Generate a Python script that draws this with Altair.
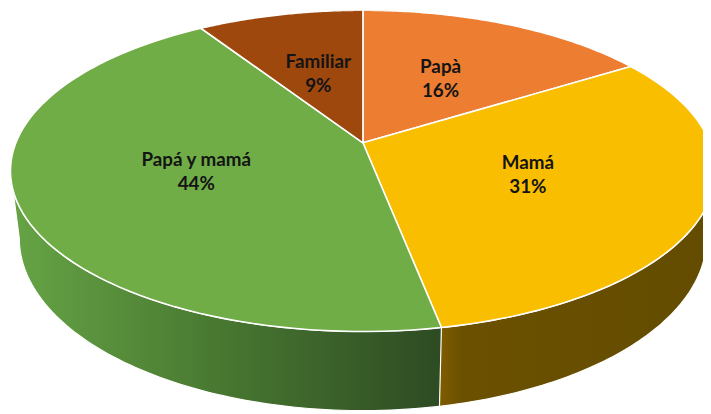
import altair as alt
import pandas as pd

# ---- data ----
categories = ["Papà", "Mamá", "Papá y mamá", "Familiar"]
values = [16, 31, 44, 9]
top_colors = ["#ED7D31", "#F9BE00", "#70AD47", "#9E480E"]

df = pd.DataFrame({"cat": categories, "value": values, "idx": list(range(len(categories)))})

# ---- layout constants (pixel space of the picture) ----
N = 80
PCX, PCY = 367, 142      # pie centre as seen in perspective
S, S2 = 351, 157.5       # horizontal / vertical radius scale
K = 0.175                # perspective strength
DEPTH = 66               # pie thickness
BX = 0.975               # horizontal shrink of the bottom face
LR = 0.5                 # label radius fraction
H = 406

xs = alt.Scale(domain=[8, 711], nice=False, zero=False)
ys = alt.Scale(domain=[8, 8 + H], nice=False, zero=False, reverse=True)

base = alt.Chart(df).transform_window(
    cum="sum(value)", sort=[alt.SortField("idx")], frame=[None, 0]
).transform_joinaggregate(
    total="sum(value)"
).transform_calculate(
    start="(datum.cum - datum.value) / datum.total * 2 * PI",
    end="datum.cum / datum.total * 2 * PI",
)

# top face
top = base.transform_calculate(
    k=f"sequence(0, {N + 2})"
).transform_flatten(["k"]).transform_calculate(
    t=f"datum.start + (datum.end - datum.start) * (datum.k - 1) / {N - 1}",
    c=f"(datum.k == 0 || datum.k == {N + 1}) ? 0 : 1",
).transform_calculate(
    px=f"{PCX} + datum.c * {S} * sin(datum.t) / (1 + {K} * cos(datum.t))",
    py=f"{PCY} - datum.c * {S2} * cos(datum.t) / (1 + {K} * cos(datum.t))",
).mark_line(stroke="white", strokeWidth=1.6, clip=True, strokeJoin="round").encode(
    x=alt.X("px:Q", scale=xs, axis=None),
    y=alt.Y("py:Q", scale=ys, axis=None),
    fill=alt.Fill("cat:N", scale=alt.Scale(domain=categories, range=top_colors), legend=None),
    order=alt.Order("k:Q"),
)

# side walls (front part only)
def side(cat, stops):
    return base.transform_calculate(
        a=f"max(datum.start, acos(-{K}))",
        b=f"min(datum.end, 2 * PI - acos(-{K}))",
    ).transform_filter(
        f"datum.a < datum.b && datum.cat == '{cat}'"
    ).transform_calculate(
        k=f"sequence(0, {2 * N})"
    ).transform_flatten(["k"]).transform_calculate(
        t=f"datum.k < {N} ? datum.a + (datum.b - datum.a) * datum.k / {N - 1} : datum.b - (datum.b - datum.a) * (datum.k - {N}) / {N - 1}",
        lo=f"datum.k < {N} ? 0 : 1",
    ).transform_calculate(
        d="1 + " + str(K) + " * cos(datum.t)",
    ).transform_calculate(
        px=f"{PCX} + (1 - datum.lo * {1 - BX}) * {S} * sin(datum.t) / datum.d",
        py=f"{PCY} - {S2} * cos(datum.t) / datum.d + datum.lo * {DEPTH} / datum.d",
    ).mark_line(
        stroke="white", strokeWidth=1.2, clip=True,
        fill=alt.Gradient(
            gradient="linear", x1=0, x2=1, y1=0, y2=0,
            stops=[alt.GradientStop(color=c, offset=o) for o, c in stops],
        ),
    ).encode(
        x=alt.X("px:Q", scale=xs, axis=None),
        y=alt.Y("py:Q", scale=ys, axis=None),
        detail="cat:N",
        order=alt.Order("k:Q"),
    )

side_green = side("Papá y mamá", [(0, "#66a445"), (0.45, "#4a7b32"), (1, "#2e4b23")])
side_mama = side("Mamá", [(0, "#7f5c00"), (0.08, "#6b5000"), (1, "#634c00")])

labels = base.transform_calculate(
    m="(datum.start + datum.end) / 2",
).transform_calculate(
    ld=f"1 + {K} * {LR} * cos(datum.m)",
).transform_calculate(
    lx=f"{PCX} + {S} * {LR} * sin(datum.m) / datum.ld",
    ly=f"{PCY} - {S2} * {LR} * cos(datum.m) / datum.ld",
    label="datum.cat + '\\n' + format(datum.value / datum.total, '.0%')",
).mark_text(
    font="Lato", fontSize=19, fontWeight="bold", color="#141414",
    lineBreak="\n", lineHeight=24, align="center", baseline="middle", dy=-12,
).encode(
    x=alt.X("lx:Q", scale=xs, axis=None),
    y=alt.Y("ly:Q", scale=ys, axis=None),
    text="label:N",
)

chart = alt.layer(side_green, side_mama, top, labels).properties(
    width=703, height=H, padding=0,
    autosize=alt.AutoSizeParams(type="none"),
    background="white",
).configure_view(stroke=None)

chart.save("out.html", embed_options={"renderer": "svg", "actions": False})
